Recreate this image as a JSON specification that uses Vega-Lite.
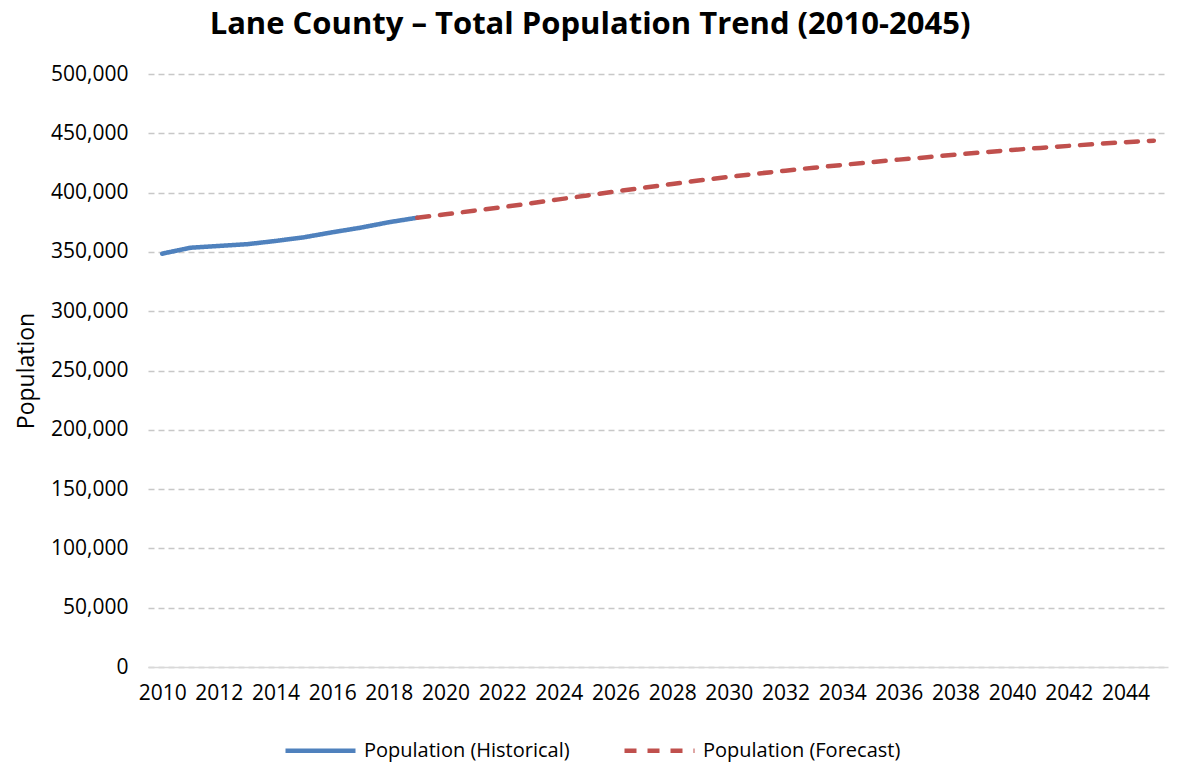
{
  "$schema": "https://vega.github.io/schema/vega-lite/v6.json",
  "width": 1020,
  "height": 593,
  "autosize": "none",
  "padding": {"left": 148, "top": 74, "right": 10, "bottom": 97},
  "background": "white",
  "config": {"view": {"stroke": null}, "font": "Open Sans"},
  "title": {
    "text": "Lane County – Total Population Trend (2010-2045)",
    "font": "Open Sans",
    "fontSize": 31,
    "fontWeight": "bold",
    "color": "#000000",
    "anchor": "middle",
    "dx": -68,
    "offset": 22
  },
  "data": {
    "values": [
      {"year": 2010, "population": 348500, "series": "Population (Historical)"},
      {"year": 2011, "population": 353500, "series": "Population (Historical)"},
      {"year": 2012, "population": 355000, "series": "Population (Historical)"},
      {"year": 2013, "population": 356500, "series": "Population (Historical)"},
      {"year": 2014, "population": 359200, "series": "Population (Historical)"},
      {"year": 2015, "population": 362300, "series": "Population (Historical)"},
      {"year": 2016, "population": 366500, "series": "Population (Historical)"},
      {"year": 2017, "population": 370400, "series": "Population (Historical)"},
      {"year": 2018, "population": 375000, "series": "Population (Historical)"},
      {"year": 2019, "population": 378800, "series": "Population (Historical)"},
      {"year": 2019, "population": 378800, "series": "Population (Forecast)"},
      {"year": 2020, "population": 381700, "series": "Population (Forecast)"},
      {"year": 2021, "population": 384700, "series": "Population (Forecast)"},
      {"year": 2022, "population": 387700, "series": "Population (Forecast)"},
      {"year": 2023, "population": 390900, "series": "Population (Forecast)"},
      {"year": 2024, "population": 394300, "series": "Population (Forecast)"},
      {"year": 2025, "population": 397600, "series": "Population (Forecast)"},
      {"year": 2026, "population": 401000, "series": "Population (Forecast)"},
      {"year": 2027, "population": 404100, "series": "Population (Forecast)"},
      {"year": 2028, "population": 407300, "series": "Population (Forecast)"},
      {"year": 2029, "population": 410400, "series": "Population (Forecast)"},
      {"year": 2030, "population": 413200, "series": "Population (Forecast)"},
      {"year": 2031, "population": 416000, "series": "Population (Forecast)"},
      {"year": 2032, "population": 418500, "series": "Population (Forecast)"},
      {"year": 2033, "population": 421000, "series": "Population (Forecast)"},
      {"year": 2034, "population": 423300, "series": "Population (Forecast)"},
      {"year": 2035, "population": 425600, "series": "Population (Forecast)"},
      {"year": 2036, "population": 427800, "series": "Population (Forecast)"},
      {"year": 2037, "population": 429800, "series": "Population (Forecast)"},
      {"year": 2038, "population": 432000, "series": "Population (Forecast)"},
      {"year": 2039, "population": 434000, "series": "Population (Forecast)"},
      {"year": 2040, "population": 436000, "series": "Population (Forecast)"},
      {"year": 2041, "population": 437700, "series": "Population (Forecast)"},
      {"year": 2042, "population": 439400, "series": "Population (Forecast)"},
      {"year": 2043, "population": 441000, "series": "Population (Forecast)"},
      {"year": 2044, "population": 442500, "series": "Population (Forecast)"},
      {"year": 2045, "population": 443800, "series": "Population (Forecast)"}
    ]
  },
  "mark": {"type": "line", "strokeWidth": 4.5, "strokeCap": "round", "strokeJoin": "round"},
  "encoding": {
    "x": {
      "field": "year",
      "type": "ordinal",
      "scale": {"type": "point", "padding": 0.5},
      "axis": {
        "title": null,
        "values": [2010, 2012, 2014, 2016, 2018, 2020, 2022, 2024, 2026, 2028, 2030, 2032, 2034, 2036, 2038, 2040, 2042, 2044],
        "labelAngle": 0,
        "labelFont": "Open Sans",
        "labelFontSize": 21,
        "labelColor": "#000000",
        "labelPadding": 15,
        "ticks": false,
        "grid": false,
        "domain": true,
        "domainColor": "#d9d9d9",
        "domainWidth": 1.5,
        "zindex": 1
      }
    },
    "y": {
      "field": "population",
      "type": "quantitative",
      "scale": {"domain": [0, 500000], "nice": false, "zero": true},
      "axis": {
        "title": "Population",
        "titleFont": "Open Sans",
        "titleFontSize": 23,
        "titleFontWeight": "normal",
        "titleColor": "#000000",
        "titlePadding": 12,
        "values": [0, 50000, 100000, 150000, 200000, 250000, 300000, 350000, 400000, 450000, 500000],
        "format": ",d",
        "labelFont": "Open Sans",
        "labelFontSize": 21,
        "labelColor": "#000000",
        "labelPadding": 20,
        "ticks": false,
        "domain": false,
        "grid": true,
        "gridColor": "#c8c8c8",
        "gridWidth": 1.5,
        "gridDash": [6, 4]
      }
    },
    "color": {
      "field": "series",
      "type": "nominal",
      "sort": ["Population (Historical)", "Population (Forecast)"],
      "scale": {"domain": ["Population (Historical)", "Population (Forecast)"], "range": ["#4f81bd", "#c0504d"]},
      "legend": {
        "title": null,
        "orient": "none",
        "direction": "horizontal",
        "legendX": 135,
        "legendY": 639,
        "symbolType": "stroke",
        "symbolSize": 4900,
        "symbolStrokeWidth": 4.5,
        "labelFont": "Open Sans",
        "labelFontSize": 20,
        "labelColor": "#000000",
        "labelOffset": 6,
        "labelLimit": 0,
        "columnPadding": 45
      }
    },
    "strokeDash": {
      "field": "series",
      "type": "nominal",
      "sort": ["Population (Historical)", "Population (Forecast)"],
      "scale": {"domain": ["Population (Historical)", "Population (Forecast)"], "range": [[1, 0], [12, 11]]},
      "legend": {
        "title": null,
        "orient": "none",
        "direction": "horizontal",
        "legendX": 135,
        "legendY": 639,
        "symbolType": "stroke",
        "symbolSize": 4900,
        "symbolStrokeWidth": 4.5,
        "labelFont": "Open Sans",
        "labelFontSize": 20,
        "labelColor": "#000000",
        "labelOffset": 6,
        "labelLimit": 0,
        "columnPadding": 45
      }
    }
  }
}
